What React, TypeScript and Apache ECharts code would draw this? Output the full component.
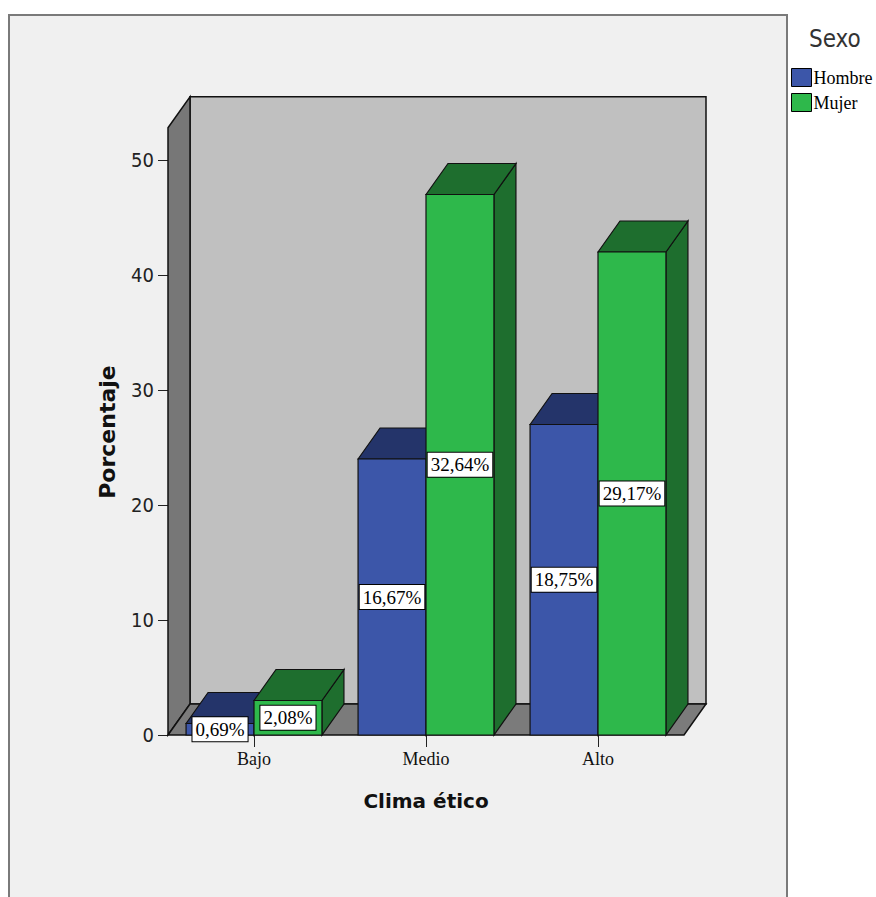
import React, { useEffect, useRef } from "react";
import * as echarts from "echarts";

const CATEGORIES = ["Bajo", "Medio", "Alto"];
const HOMBRE = [1, 24, 27];
const MUJER = [3, 47, 42];
const HOMBRE_LABELS = ["0,69%", "16,67%", "18,75%"];
const MUJER_LABELS = ["2,08%", "32,64%", "29,17%"];
const SERIES_NAMES = ["Hombre", "Mujer"];
const Y_MIN = 0;
const Y_MAX = 50;
const Y_INTERVAL = 10;
const WALL_TOP = 52.8;

const DX = 22;
const DY = -31;
const BAR_FRAC = 0.395;

const BLUE = "#3c56a9";
const BLUE_DARK = "#24346a";
const GREEN = "#2eb84b";
const GREEN_DARK = "#1e6e2e";
const EDGE = "#111";

const SERIF = '"Liberation Serif", "Times New Roman", serif';
const NARROW = '"Liberation Sans Narrow", "DejaVu Sans Condensed", sans-serif';
const BOLD_SANS = '"DejaVu Sans", "Liberation Sans", sans-serif';

function barRenderer(side: "left" | "right", front: string, dark: string, labels: string[]) {
  return (params: any, api: any) => {
    const idx = api.value(0);
    const val = api.value(1);
    const base = api.coord([idx, 0]);
    const top = api.coord([idx, val]);
    const band = api.size([1, 0])[0];
    const bw = band * BAR_FRAC;
    const x0 = side === "left" ? base[0] - bw : base[0];
    const x1 = x0 + bw;
    const ty = top[1];
    const by = base[1];
    return {
      type: "group",
      children: [
        {
          type: "polygon",
          shape: { points: [[x1, ty], [x1 + DX, ty + DY], [x1 + DX, by + DY], [x1, by]] },
          style: { fill: dark, stroke: EDGE, lineWidth: 1.2 },
        },
        {
          type: "polygon",
          shape: { points: [[x0, ty], [x0 + DX, ty + DY], [x1 + DX, ty + DY], [x1, ty]] },
          style: { fill: dark, stroke: EDGE, lineWidth: 1.2 },
        },
        {
          type: "rect",
          shape: { x: x0, y: ty, width: bw, height: by - ty },
          style: { fill: front, stroke: EDGE, lineWidth: 1.2 },
        },
        {
          type: "text",
          z2: 100,
          style: {
            text: labels[params.dataIndex],
            x: (x0 + x1) / 2,
            y: (ty + by) / 2,
            align: "center",
            verticalAlign: "middle",
            fill: "#000",
            fontFamily: SERIF,
            fontSize: 19,
            backgroundColor: "#fff",
            borderColor: "#000",
            borderWidth: 1,
            padding: [3, 3, 2, 3],
          },
        },
      ],
    };
  };
}

function wallRenderer(params: any, api: any) {
  const band = api.size([1, 0])[0];
  const left = api.coord([0, 0])[0] - band / 2;
  const right = api.coord([CATEGORIES.length - 1, 0])[0] + band / 2;
  const y0 = api.coord([0, 0])[1];
  const yT = api.coord([0, WALL_TOP])[1];
  return {
    type: "group",
    children: [
      {
        type: "rect",
        shape: { x: left + DX, y: yT + DY, width: right - left, height: y0 - yT },
        style: { fill: "#c0c0c0", stroke: EDGE, lineWidth: 1.5 },
      },
      {
        type: "polygon",
        shape: { points: [[left, yT], [left + DX, yT + DY], [left + DX, y0 + DY], [left, y0]] },
        style: { fill: "#777777", stroke: EDGE, lineWidth: 1.5 },
      },
      {
        type: "polygon",
        shape: { points: [[left, y0], [left + DX, y0 + DY], [right + DX, y0 + DY], [right, y0]] },
        style: { fill: "#7b7b7b", stroke: EDGE, lineWidth: 1.5 },
      },
    ],
  };
}

export default function App() {
  const ref = useRef<HTMLDivElement>(null);
  useEffect(() => {
    if (!ref.current) return;
    const chart = echarts.init(ref.current, null, { renderer: "svg" });
    chart.setOption({
      animation: false,
      backgroundColor: "#ffffff",
      title: {
        text: "Sexo",
        left: 809,
        top: 27,
        padding: 0,
        textStyle: { fontFamily: NARROW, fontSize: 24, fontWeight: "normal", color: "#333" },
      },
      legend: {
        data: SERIES_NAMES,
        orient: "vertical",
        left: 791,
        top: 68,
        padding: 0,
        itemWidth: 20,
        itemHeight: 18,
        itemGap: 6,
        icon: "rect",
        itemStyle: { borderColor: "#000", borderWidth: 1 },
        textStyle: { fontFamily: SERIF, fontSize: 18, color: "#000", padding: [0, 0, 0, -3] },
      },
      grid: { left: 168, right: 192, top: 160, bottom: 162 },
      xAxis: {
        type: "category",
        data: CATEGORIES,
        axisLine: { show: false },
        axisTick: { show: true, alignWithLabel: true, length: 12, lineStyle: { color: "#222" } },
        axisLabel: { margin: 15, fontFamily: SERIF, fontSize: 18, color: "#111" },
        splitLine: { show: false },
      },
      yAxis: {
        type: "value",
        min: Y_MIN,
        max: Y_MAX,
        interval: Y_INTERVAL,
        axisLine: { show: false },
        axisTick: { show: true, length: 10, lineStyle: { color: "#222" } },
        axisLabel: { margin: 14, fontFamily: NARROW, fontSize: 20, color: "#222" },
        splitLine: { show: false },
      },
      graphic: [
        {
          type: "rect",
          z: -10,
          shape: { x: 9, y: 15, width: 778, height: 900 },
          style: { fill: "#f0f0f0", stroke: "#7a7a7a", lineWidth: 2 },
        },
        {
          type: "text",
          x: 107,
          y: 432,
          rotation: Math.PI / 2,
          style: {
            text: "Porcentaje",
            align: "center",
            verticalAlign: "middle",
            fontFamily: BOLD_SANS,
            fontWeight: "bold",
            fontSize: 22,
            fill: "#111",
          },
        },
        {
          type: "text",
          x: 426,
          y: 801,
          style: {
            text: "Clima ético",
            align: "center",
            verticalAlign: "middle",
            fontFamily: BOLD_SANS,
            fontWeight: "bold",
            fontSize: 20,
            fill: "#111",
          },
        },
      ],
      series: [
        {
          type: "custom",
          name: "walls",
          silent: true,
          data: [[0, 0]],
          encode: { x: 0, y: 1 },
          renderItem: wallRenderer,
        },
        {
          type: "custom",
          name: SERIES_NAMES[0],
          itemStyle: { color: BLUE },
          data: HOMBRE.map((v, i) => [i, v]),
          encode: { x: 0, y: 1 },
          renderItem: barRenderer("left", BLUE, BLUE_DARK, HOMBRE_LABELS),
        },
        {
          type: "custom",
          name: SERIES_NAMES[1],
          itemStyle: { color: GREEN },
          data: MUJER.map((v, i) => [i, v]),
          encode: { x: 0, y: 1 },
          renderItem: barRenderer("right", GREEN, GREEN_DARK, MUJER_LABELS),
        },
      ],
    });
    return () => chart.dispose();
  }, []);
  return (
    <div
      ref={ref}
      style={{ position: "fixed", left: 0, top: 0, width: 876, height: 897 }}
    />
  );
}
